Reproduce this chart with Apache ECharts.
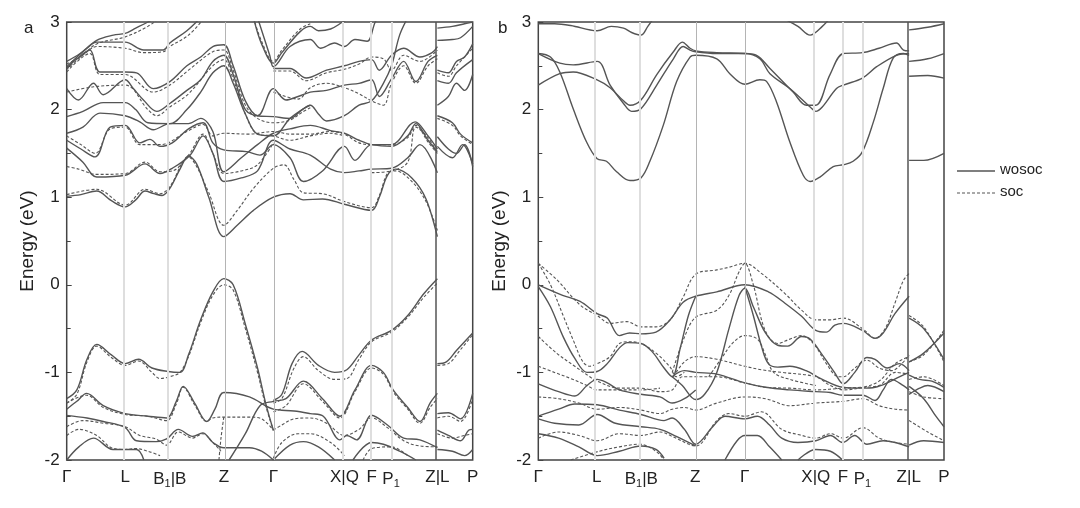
<!DOCTYPE html>
<html>
<head>
<meta charset="utf-8">
<script src="https://cdn.jsdelivr.net/npm/echarts@6/dist/echarts.min.js"></script>
<style>
  html, body { margin: 0; padding: 0; background: #fff; }
  #chart { width: 1080px; height: 508px; }
</style>
</head>
<body>
<div id="chart"></div>
<script>
// high-symmetry path positions (fraction of path length) and their labels
const kTicks = [0, 0.144, 0.254, 0.387, 0.509, 0.684, 0.751, 0.799, 0.913, 1]
const kLabels = ['Γ', 'L', 'B{s|1}|B', 'Z', 'Γ', 'X|Q', 'F', 'P{s|1}', 'Z|L', 'P']
const energyMin = -2
const energyMax = 3

// panel a, without SOC (solid)
const aWosoc = [
  [[0,-1.30],[0.025,-1.2],[0.05,-0.85],[0.074,-0.68],[0.11,-0.8],[0.144,-0.9],[0.177,-0.85],[0.21,-0.95],[0.25,-0.99],[0.279,-1.0],[0.3,-0.8],[0.33,-0.4],[0.36,-0.08],[0.387,0.07],[0.41,0.0],[0.44,-0.45],[0.47,-0.95],[0.49,-1.35],[0.509,-1.66]],
  [[0.509,-1.32],[0.53,-1.25],[0.555,-0.9],[0.58,-0.76],[0.62,-0.92],[0.66,-1.0],[0.69,-0.97],[0.72,-0.8],[0.751,-0.63],[0.8,-0.52],[0.84,-0.35],[0.88,-0.1],[0.913,0.07]],
  [[0.913,-0.9],[0.935,-0.88],[0.96,-0.75],[1.0,-0.55]],
  [[0,-1.42],[0.025,-1.33],[0.049,-1.24],[0.09,-1.38],[0.144,-1.47],[0.2,-1.5],[0.246,-1.52],[0.27,-1.33],[0.287,-1.16],[0.315,-1.35],[0.345,-1.56],[0.365,-1.42],[0.387,-1.23],[0.45,-1.28],[0.509,-1.42],[0.56,-1.44],[0.6,-1.47],[0.632,-1.5],[0.673,-1.77],[0.69,-1.72],[0.714,-1.77],[0.751,-1.49],[0.79,-1.6],[0.83,-1.75],[0.87,-1.77],[0.913,-1.86]],
  [[0.40,-2.0],[0.44,-1.7],[0.476,-1.38],[0.509,-1.33],[0.54,-1.3],[0.583,-1.1],[0.63,-1.3],[0.673,-1.5],[0.71,-1.2],[0.751,-0.92],[0.78,-1.0],[0.804,-1.2],[0.84,-1.4],[0.87,-1.56],[0.895,-1.35],[0.913,-1.24]],
  [[0,-1.49],[0.05,-1.52],[0.09,-1.56],[0.144,-1.63],[0.172,-1.78],[0.22,-1.79],[0.246,-1.76],[0.275,-1.65],[0.31,-1.73],[0.335,-1.69],[0.36,-1.8],[0.387,-1.86],[0.45,-1.86],[0.48,-1.9],[0.509,-2.0]],
  [[0,-2.0],[0.03,-1.85],[0.066,-1.75],[0.114,-1.88],[0.172,-1.88],[0.19,-2.0]],
  [[0.509,-2.0],[0.55,-1.83],[0.583,-1.79],[0.62,-1.85],[0.66,-2.0]],
  [[0.705,-2.0],[0.751,-1.8],[0.78,-1.82],[0.82,-1.9],[0.86,-2.0]],
  [[0.913,-1.47],[0.94,-1.46],[0.97,-1.53],[1.0,-1.24]],
  [[0.913,-1.66],[0.94,-1.72],[0.97,-1.78],[0.99,-1.66],[1.0,-1.65]],
  [[0.913,-1.88],[0.95,-1.9],[0.98,-1.95],[1.0,-1.88]],
  [[0,1.01],[0.035,1.03],[0.074,1.07],[0.11,0.96],[0.144,0.89],[0.17,0.97],[0.193,1.07],[0.215,1.04],[0.235,1.02],[0.254,1.1],[0.28,1.33],[0.3,1.47],[0.32,1.38],[0.35,1.0],[0.387,0.55],[0.42,0.68],[0.46,0.85],[0.509,1.0],[0.55,1.04],[0.583,0.97],[0.63,0.98],[0.684,0.92],[0.751,0.85],[0.77,1.0],[0.79,1.25],[0.81,1.32],[0.85,1.22],[0.885,0.98],[0.913,0.55]],
  [[0,1.65],[0.035,1.55],[0.07,1.46],[0.107,1.8],[0.144,1.82],[0.18,1.62],[0.205,1.66],[0.23,1.58],[0.26,1.62],[0.3,1.78],[0.336,1.85],[0.36,1.62],[0.387,1.54],[0.443,1.52],[0.476,1.48],[0.509,1.6],[0.55,1.45],[0.583,1.18],[0.63,1.3],[0.684,1.58],[0.71,1.42],[0.751,1.6],[0.8,1.6],[0.858,1.86],[0.89,1.7],[0.913,1.55]],
  [[0,1.56],[0.04,1.4],[0.074,1.23],[0.144,1.25],[0.193,1.38],[0.23,1.27],[0.26,1.33],[0.304,1.48],[0.336,1.7],[0.36,1.5],[0.387,1.18],[0.43,1.22],[0.47,1.3],[0.509,1.65],[0.55,1.55],[0.6,1.48],[0.65,1.32],[0.684,1.28],[0.72,1.3],[0.751,1.32],[0.8,1.33],[0.84,1.45],[0.87,1.6],[0.913,1.28]],
  [[0,1.73],[0.04,1.8],[0.082,1.96],[0.144,1.93],[0.18,1.86],[0.213,1.77],[0.254,1.84],[0.3,1.84],[0.33,1.9],[0.36,1.75],[0.387,1.29],[0.43,1.45],[0.47,1.6],[0.509,1.73],[0.55,1.78],[0.6,1.82],[0.65,1.76],[0.684,1.73],[0.72,1.65],[0.751,1.6],[0.8,1.58],[0.84,1.7],[0.86,1.84],[0.89,1.65],[0.913,1.52]],
  [[0,1.92],[0.04,1.98],[0.09,2.08],[0.144,2.08],[0.17,2.0],[0.2,1.85],[0.254,1.84],[0.296,2.0],[0.33,2.2],[0.36,2.42],[0.387,2.5],[0.41,2.3],[0.44,1.95],[0.47,1.72],[0.509,1.7],[0.55,1.9],[0.58,2.0],[0.6,2.05],[0.62,1.95],[0.64,1.87],[0.684,1.93],[0.72,2.05],[0.751,2.1],[0.78,2.3],[0.8,2.5],[0.82,2.85],[0.84,3.05]],
  [[0,2.24],[0.029,2.11],[0.066,2.3],[0.09,2.17],[0.144,2.34],[0.164,2.24],[0.189,2.11],[0.222,1.98],[0.254,2.07],[0.296,2.22],[0.33,2.34],[0.36,2.55],[0.387,2.62],[0.41,2.4],[0.44,2.0],[0.47,1.93],[0.509,2.24],[0.54,2.11],[0.57,2.15],[0.6,2.2],[0.64,2.22],[0.684,2.28],[0.72,2.3],[0.751,2.34],[0.77,2.15],[0.8,2.35],[0.83,2.55],[0.86,2.32],[0.89,2.55],[0.913,2.62]],
  [[0,2.47],[0.025,2.58],[0.057,2.68],[0.082,2.43],[0.144,2.43],[0.172,2.42],[0.213,2.24],[0.254,2.32],[0.296,2.5],[0.33,2.6],[0.36,2.72],[0.387,2.74],[0.41,2.5],[0.44,2.1],[0.47,1.93],[0.509,1.92],[0.55,1.9],[0.58,2.0],[0.6,2.05]],
  [[0,2.49],[0.05,2.7],[0.074,2.77],[0.144,2.77],[0.19,2.68],[0.238,2.68],[0.254,2.76],[0.296,2.9],[0.33,3.05]],
  [[0,2.55],[0.033,2.64],[0.074,2.79],[0.115,2.85],[0.144,2.87],[0.17,2.93],[0.2,3.0],[0.22,3.05]],
  [[0.46,3.05],[0.48,2.75],[0.509,2.53],[0.53,2.65],[0.575,2.89],[0.6,2.95],[0.62,2.9],[0.65,2.92],[0.68,3.0],[0.7,3.05]],
  [[0.47,3.05],[0.5,2.62],[0.509,2.49],[0.55,2.72],[0.6,2.8],[0.625,2.7],[0.66,2.76],[0.684,2.72],[0.71,2.8],[0.74,2.78],[0.76,3.0],[0.77,3.05]],
  [[0.509,2.47],[0.55,2.47],[0.59,2.36],[0.64,2.45],[0.684,2.5],[0.72,2.55],[0.751,2.57],[0.77,2.45],[0.8,2.62],[0.83,2.7],[0.87,2.6],[0.9,2.65],[0.913,2.72]],
  [[0.913,2.93],[0.95,2.95],[0.98,2.98],[1.0,3.0]],
  [[0.913,2.79],[0.95,2.8],[0.97,2.82],[1.0,2.95]],
  [[0.913,2.45],[0.94,2.42],[0.96,2.55],[0.98,2.6],[1.0,2.75]],
  [[0.913,2.33],[0.94,2.3],[0.96,2.42],[1.0,2.57]],
  [[0.913,2.05],[0.94,2.15],[0.96,2.3],[0.98,2.22],[1.0,2.4]],
  [[0.913,1.93],[0.95,1.85],[0.97,1.72],[1.0,1.62]],
  [[0.913,1.69],[0.94,1.55],[0.96,1.5],[0.98,1.6],[1.0,1.35]],
  [[0.913,1.58],[0.95,1.45],[0.975,1.6],[1.0,1.38]]
]

// panel a, with SOC (dashed)
const aSoc = [
  [[0,-1.35],[0.025,-1.25],[0.05,-0.88],[0.074,-0.7],[0.11,-0.83],[0.144,-0.92],[0.177,-0.87],[0.21,-1.0],[0.23,-1.07],[0.26,-1.04],[0.279,-1.0],[0.3,-0.82],[0.33,-0.43],[0.36,-0.12],[0.387,0.0],[0.41,-0.06],[0.44,-0.5],[0.47,-1.0],[0.49,-1.38],[0.509,-1.66]],
  [[0.509,-1.35],[0.53,-1.3],[0.56,-0.95],[0.583,-0.82],[0.62,-0.98],[0.66,-1.08],[0.69,-1.07],[0.72,-0.85],[0.751,-0.65],[0.8,-0.54],[0.84,-0.37],[0.88,-0.14],[0.913,0.02]],
  [[0.913,-0.92],[0.94,-0.9],[0.97,-0.74],[1.0,-0.57]],
  [[0,-1.35],[0.049,-1.26],[0.09,-1.4],[0.144,-1.48],[0.2,-1.5],[0.246,-1.55],[0.27,-1.36],[0.287,-1.17],[0.315,-1.37],[0.345,-1.56],[0.36,-1.52],[0.387,-1.51],[0.45,-1.51],[0.48,-1.53],[0.509,-1.66]],
  [[0.387,-1.51],[0.38,-1.75],[0.375,-2.0]],
  [[0.509,-1.45],[0.54,-1.38],[0.583,-1.13],[0.63,-1.33],[0.673,-1.52],[0.71,-1.22],[0.751,-0.95],[0.78,-1.02],[0.804,-1.22],[0.84,-1.42],[0.87,-1.58],[0.895,-1.4],[0.913,-1.3]],
  [[0.509,-1.66],[0.53,-1.6],[0.56,-1.53],[0.6,-1.52],[0.64,-1.58],[0.684,-1.72],[0.72,-1.65],[0.751,-1.52],[0.79,-1.63],[0.83,-1.78],[0.87,-1.84],[0.913,-1.85]],
  [[0.509,-1.98],[0.53,-1.8],[0.57,-1.7],[0.6,-1.7],[0.65,-1.8],[0.684,-1.95]],
  [[0.73,-2.0],[0.751,-1.87],[0.8,-1.85],[0.84,-1.95]],
  [[0,-1.62],[0.04,-1.55],[0.09,-1.58],[0.144,-1.62],[0.18,-1.72],[0.22,-1.76],[0.246,-1.83],[0.275,-1.68],[0.31,-1.75],[0.335,-1.7],[0.36,-1.8],[0.38,-1.9]],
  [[0,-1.72],[0.03,-1.65],[0.074,-1.72],[0.11,-1.86],[0.144,-1.88],[0.17,-1.87],[0.2,-1.9],[0.23,-1.95]],
  [[0.913,-1.52],[0.94,-1.5],[0.97,-1.56],[1.0,-1.3]],
  [[0.913,-1.7],[0.95,-1.75],[0.98,-1.72],[1.0,-1.7]],
  [[0,1.03],[0.074,1.09],[0.144,0.91],[0.193,1.09],[0.23,1.04],[0.254,1.12],[0.3,1.46],[0.32,1.35],[0.35,1.05],[0.387,0.68],[0.42,0.85],[0.46,1.1],[0.509,1.33],[0.535,1.37],[0.56,1.2],[0.583,1.05],[0.63,1.04],[0.684,0.95],[0.751,0.88],[0.77,1.02],[0.79,1.27],[0.81,1.3],[0.85,1.18],[0.885,0.95],[0.913,0.62]],
  [[0,1.35],[0.03,1.32],[0.074,1.26],[0.144,1.27],[0.193,1.4],[0.23,1.29],[0.26,1.3],[0.3,1.48],[0.336,1.72],[0.36,1.5],[0.387,1.27],[0.43,1.3],[0.47,1.37],[0.509,1.62]],
  [[0,1.7],[0.035,1.6],[0.07,1.5],[0.107,1.78],[0.144,1.8],[0.18,1.6],[0.23,1.6],[0.3,1.76],[0.336,1.83],[0.36,1.7],[0.387,1.73],[0.45,1.72],[0.509,1.75],[0.55,1.72],[0.6,1.72],[0.65,1.75],[0.684,1.72],[0.72,1.62],[0.751,1.6],[0.8,1.6],[0.84,1.68],[0.86,1.82],[0.89,1.63],[0.913,1.5]],
  [[0.751,1.28],[0.8,1.3],[0.84,1.4],[0.86,1.8],[0.89,1.68],[0.913,1.5]],
  [[0,2.52],[0.033,2.6],[0.074,2.75],[0.144,2.83],[0.2,2.95],[0.23,3.05]],
  [[0,2.46],[0.05,2.66],[0.074,2.72],[0.144,2.7],[0.19,2.65],[0.238,2.66],[0.254,2.72],[0.3,2.85],[0.34,3.05]],
  [[0,2.43],[0.057,2.64],[0.082,2.4],[0.144,2.4],[0.213,2.2],[0.254,2.28],[0.3,2.45],[0.36,2.66],[0.387,2.68],[0.41,2.45],[0.44,2.05],[0.47,1.9],[0.509,1.85],[0.55,1.88],[0.58,1.97],[0.6,2.02]],
  [[0,2.2],[0.066,2.26],[0.144,2.28],[0.2,2.0],[0.222,1.93],[0.254,2.03],[0.3,2.18],[0.36,2.5],[0.387,2.57],[0.41,2.35],[0.44,1.95],[0.47,1.72],[0.509,1.7],[0.55,1.65],[0.6,1.7],[0.65,1.73],[0.684,1.7]],
  [[0.46,3.05],[0.48,2.78],[0.509,2.55],[0.53,2.68],[0.575,2.92],[0.6,2.98]],
  [[0.509,2.44],[0.55,2.44],[0.59,2.33],[0.64,2.42],[0.684,2.46],[0.72,2.52],[0.751,2.6],[0.78,2.58],[0.8,2.45],[0.83,2.62],[0.87,2.55],[0.913,2.68]],
  [[0.509,2.2],[0.57,2.12],[0.6,2.25],[0.64,2.3],[0.684,2.25],[0.72,2.18],[0.751,2.1],[0.78,2.05],[0.8,2.3],[0.83,2.5],[0.86,2.3],[0.89,2.5],[0.913,2.58]],
  [[0.913,2.42],[0.94,2.38],[0.96,2.5],[1.0,2.7]],
  [[0.913,1.9],[0.95,1.82],[0.97,1.7],[1.0,1.6]]
]

// panel b, without SOC (solid)
const bWosoc = [
  [[0,2.64],[0.03,2.6],[0.053,2.43],[0.086,2.01],[0.119,1.63],[0.145,1.44],[0.168,1.41],[0.193,1.29],[0.226,1.19],[0.253,1.22],[0.275,1.41],[0.308,1.82],[0.341,2.32],[0.374,2.6],[0.388,2.62],[0.44,2.58],[0.472,2.41],[0.509,2.29],[0.546,2.34],[0.563,2.32],[0.587,2.09],[0.62,1.63],[0.653,1.25],[0.67,1.18],[0.694,1.23],[0.727,1.35],[0.752,1.37],[0.776,1.41],[0.799,1.52],[0.826,1.86],[0.85,2.24],[0.875,2.59],[0.9,2.64],[0.914,2.62]],
  [[0,2.64],[0.053,2.53],[0.086,2.51],[0.145,2.55],[0.177,2.28],[0.21,2.07],[0.23,1.98],[0.253,2.01],[0.292,2.28],[0.333,2.58],[0.357,2.72],[0.374,2.68],[0.388,2.66],[0.44,2.64],[0.509,2.64],[0.546,2.58],[0.571,2.41],[0.62,2.24],[0.67,2.03],[0.684,1.98],[0.7,2.03],[0.735,2.24],[0.752,2.28],[0.799,2.36],[0.834,2.49],[0.883,2.62],[0.914,2.64]],
  [[0,2.28],[0.053,2.41],[0.086,2.43],[0.145,2.34],[0.177,2.25],[0.21,2.1],[0.226,2.05],[0.253,2.11],[0.292,2.4],[0.333,2.66],[0.355,2.77],[0.374,2.7],[0.388,2.67],[0.44,2.65],[0.509,2.64],[0.538,2.62],[0.571,2.47],[0.628,2.2],[0.661,2.05],[0.684,2.05],[0.719,2.4],[0.752,2.64],[0.799,2.65],[0.84,2.7],[0.883,2.76],[0.9,2.68],[0.914,2.67]],
  [[0.914,1.42],[0.95,1.42],[1.0,1.5]],
  [[0.914,2.55],[0.96,2.58],[1.0,2.64]],
  [[0.914,2.38],[0.96,2.39],[1.0,2.36]],
  [[0,2.98],[0.04,2.98],[0.08,2.96],[0.145,2.9],[0.18,2.95],[0.21,2.93],[0.23,2.88],[0.253,2.85],[0.27,2.95],[0.285,3.05]],
  [[0.6,3.05],[0.64,2.95],[0.67,2.85],[0.7,2.95],[0.72,3.05]],
  [[0.914,2.91],[0.96,2.94],[1.0,2.98]],
  [[0,0],[0.06,-0.12],[0.103,-0.19],[0.145,-0.33],[0.17,-0.38],[0.2,-0.58],[0.225,-0.55],[0.253,-0.56],[0.29,-0.54],[0.325,-0.4],[0.357,-0.2],[0.388,-0.13],[0.44,-0.08],[0.509,0],[0.567,-0.08],[0.608,-0.21],[0.649,-0.36],[0.684,-0.52],[0.71,-0.54],[0.731,-0.46],[0.752,-0.44],[0.799,-0.52],[0.83,-0.61],[0.85,-0.55],[0.879,-0.33],[0.914,-0.13]],
  [[0,-0.02],[0.03,-0.25],[0.062,-0.6],[0.09,-0.84],[0.12,-1.0],[0.145,-0.99],[0.17,-0.9],[0.2,-0.72],[0.22,-0.66],[0.253,-0.67],[0.28,-0.76],[0.31,-0.95],[0.33,-1.05],[0.35,-0.72],[0.37,-0.35],[0.388,-0.13]],
  [[0.33,-1.05],[0.355,-1.15],[0.388,-1.31],[0.41,-1.25],[0.44,-1.0],[0.47,-0.5],[0.495,-0.12],[0.509,-0.04],[0.53,-0.25],[0.56,-0.55],[0.59,-0.69],[0.615,-0.7],[0.649,-0.59],[0.67,-0.62],[0.7,-0.8],[0.73,-1.0],[0.752,-1.13],[0.78,-1.0],[0.81,-0.83],[0.83,-0.85],[0.86,-0.95],[0.89,-0.9],[0.914,-0.98]],
  [[0.509,-0.02],[0.53,-0.35],[0.55,-0.7],[0.567,-0.9],[0.59,-0.94],[0.62,-0.93],[0.66,-0.98],[0.7,-1.08],[0.75,-1.17],[0.8,-1.18],[0.83,-1.17],[0.86,-1.12],[0.89,-1.05],[0.914,-1.0]],
  [[0.33,-1.05],[0.36,-0.98],[0.388,-1.0],[0.44,-1.02],[0.509,-1.12],[0.56,-1.17],[0.62,-1.2],[0.684,-1.22],[0.72,-1.23],[0.75,-1.26],[0.8,-1.26],[0.83,-1.32],[0.85,-1.2],[0.87,-1.08],[0.9,-1.15],[0.914,-1.2]],
  [[0,-1.13],[0.05,-1.22],[0.09,-1.27],[0.12,-1.15],[0.145,-1.08],[0.17,-1.12],[0.2,-1.2],[0.253,-1.25],[0.3,-1.28],[0.33,-1.35],[0.36,-1.3],[0.388,-1.2]],
  [[0,-1.5],[0.05,-1.42],[0.09,-1.36],[0.145,-1.37],[0.2,-1.43],[0.253,-1.48],[0.31,-1.55],[0.33,-1.52],[0.36,-1.65],[0.388,-1.82],[0.43,-1.62],[0.46,-1.5],[0.509,-1.53],[0.54,-1.5],[0.57,-1.6],[0.6,-1.75],[0.64,-1.8],[0.684,-1.78],[0.72,-1.72],[0.75,-1.8],[0.78,-1.72],[0.81,-1.82],[0.85,-1.78],[0.88,-1.8],[0.914,-1.85]],
  [[0,-1.53],[0.04,-1.58],[0.1,-1.6],[0.145,-1.48],[0.19,-1.58],[0.253,-1.62],[0.3,-1.65],[0.34,-1.73],[0.388,-1.84]],
  [[0,-1.7],[0.05,-1.75],[0.1,-1.85],[0.145,-1.95],[0.2,-1.9],[0.253,-1.84],[0.29,-1.88],[0.31,-1.98]],
  [[0.46,-2.0],[0.49,-1.78],[0.509,-1.72],[0.54,-1.72],[0.57,-1.85],[0.6,-2.0]],
  [[0.64,-2.0],[0.684,-1.88],[0.72,-1.9],[0.75,-2.0]],
  [[0.914,-0.38],[0.95,-0.5],[1.0,-0.85]],
  [[0.914,-0.88],[0.95,-0.78],[1.0,-0.55]],
  [[0.914,-1.03],[0.94,-1.08],[0.97,-1.1],[1.0,-1.17]],
  [[0.914,-1.25],[0.94,-1.18],[0.96,-1.15],[1.0,-1.22]],
  [[0.914,-1.16],[0.95,-1.3],[0.98,-1.5],[1.0,-1.62]],
  [[0.914,-1.83],[0.95,-1.78],[1.0,-1.8]]
]

// panel b, with SOC (dashed)
const bSoc = [
  [[0,0.245],[0.045,0.06],[0.103,-0.23],[0.145,-0.35],[0.177,-0.44],[0.218,-0.42],[0.253,-0.48],[0.29,-0.48],[0.325,-0.4],[0.357,-0.14],[0.388,0.12],[0.44,0.17],[0.47,0.2],[0.509,0.245],[0.55,0.13],[0.608,-0.1],[0.649,-0.29],[0.684,-0.4],[0.72,-0.4],[0.752,-0.38],[0.799,-0.5],[0.83,-0.61],[0.855,-0.5],[0.879,-0.21],[0.9,0.05],[0.914,0.13]],
  [[0,0.245],[0.03,0.0],[0.062,-0.36],[0.086,-0.63],[0.11,-0.88],[0.127,-0.93],[0.145,-0.9],[0.177,-0.82],[0.2,-0.67],[0.225,-0.65],[0.253,-0.67],[0.29,-0.78],[0.325,-0.94],[0.34,-1.05],[0.36,-1.0]],
  [[0.33,-1.0],[0.36,-0.6],[0.388,-0.37],[0.44,-0.29],[0.47,-0.12],[0.495,0.15],[0.509,0.245],[0.53,0.0],[0.559,-0.52],[0.59,-0.67],[0.62,-0.62],[0.649,-0.58],[0.68,-0.68],[0.71,-0.9],[0.74,-1.05],[0.752,-1.05],[0.78,-0.95],[0.81,-0.86],[0.84,-0.95],[0.87,-0.98],[0.914,-0.8]],
  [[0.42,-1.05],[0.45,-0.85],[0.48,-0.66],[0.509,-0.58],[0.54,-0.62],[0.56,-0.8],[0.58,-1.0],[0.62,-1.08],[0.684,-1.15]],
  [[0.34,-1.0],[0.36,-0.88],[0.388,-0.82],[0.44,-0.85],[0.509,-0.93],[0.55,-0.97],[0.6,-1.0],[0.684,-1.05],[0.72,-1.15],[0.752,-1.2],[0.8,-1.17],[0.84,-1.1],[0.88,-0.9],[0.914,-0.82]],
  [[0,-0.59],[0.045,-0.78],[0.09,-0.93],[0.127,-1.05],[0.145,-1.1],[0.2,-1.18],[0.253,-1.18],[0.3,-1.22],[0.33,-1.2],[0.355,-1.05],[0.388,-1.05],[0.44,-1.05],[0.509,-1.12],[0.56,-1.17],[0.62,-1.18],[0.684,-1.2],[0.752,-1.18],[0.8,-1.17],[0.84,-1.15],[0.88,-1.0],[0.914,-1.02]],
  [[0,-0.93],[0.04,-1.0],[0.08,-1.07],[0.12,-1.15],[0.145,-1.2],[0.2,-1.2],[0.253,-1.2],[0.3,-1.18]],
  [[0,-1.28],[0.05,-1.3],[0.1,-1.35],[0.145,-1.42],[0.2,-1.4],[0.253,-1.43],[0.3,-1.47],[0.33,-1.42],[0.36,-1.4],[0.388,-1.43],[0.44,-1.35],[0.509,-1.28],[0.56,-1.3],[0.62,-1.38],[0.684,-1.35],[0.752,-1.33],[0.8,-1.3],[0.84,-1.38],[0.88,-1.42],[0.914,-1.43]],
  [[0,-1.75],[0.05,-1.68],[0.1,-1.72],[0.145,-1.78],[0.2,-1.7],[0.253,-1.72],[0.3,-1.68],[0.33,-1.73],[0.388,-1.84],[0.44,-1.55],[0.47,-1.47],[0.509,-1.5],[0.55,-1.45],[0.6,-1.65],[0.65,-1.72],[0.684,-1.75],[0.72,-1.7],[0.752,-1.75],[0.8,-1.63],[0.84,-1.75],[0.88,-1.8],[0.914,-1.82]],
  [[0.08,-2.0],[0.15,-1.9],[0.2,-1.85],[0.25,-1.82],[0.29,-1.9],[0.31,-2.0]],
  [[0.914,-0.35],[0.95,-0.48],[1.0,-0.88]],
  [[0.914,-0.88],[0.95,-0.8],[1.0,-0.52]],
  [[0.914,-1.08],[0.95,-1.05],[1.0,-1.15]],
  [[0.914,-1.22],[0.95,-1.28],[1.0,-1.3]],
  [[0.914,-1.55],[0.96,-1.68],[1.0,-1.78]]
]

const fontFamily = 'Liberation Sans, Arial, sans-serif'
const lineColor = '#555'
const chart = echarts.init(document.getElementById('chart'))

function bandSeries(bands, idx, soc) {
  return bands.map(function(b) {
    return {
      type: 'line',
      name: soc ? 'soc' : 'wosoc',
      xAxisIndex: idx,
      yAxisIndex: idx,
      data: b,
      smooth: 0.35,
      symbol: 'none',
      silent: true,
      z: soc ? 3 : 4,
      color: lineColor,
      lineStyle: {
        color: lineColor,
        width: soc ? 1.1 : 1.4,
        type: soc ? [3, 2] : 'solid'
      }
    }
  })
}

function kLines(idx) {
  // vertical guide lines at the high-symmetry points; Z and Γ are thin, Z|L is the dark break
  return {
    type: 'line',
    xAxisIndex: idx,
    yAxisIndex: idx,
    data: [],
    silent: true,
    z: 1,
    markLine: {
      silent: true,
      symbol: 'none',
      label: { show: false },
      animation: false,
      data: kTicks.slice(1, -1).map(function(k) {
        let style = { color: '#dedede', width: 2, type: 'solid' }
        if (k === 0.913) style = { color: '#555', width: 1.5, type: 'solid' }
        if (k === 0.387 || k === 0.509) style = { color: '#b4b4b4', width: 1, type: 'solid' }
        return { xAxis: k, lineStyle: style }
      })
    }
  }
}

function xAxis(idx) {
  return {
    type: 'value',
    gridIndex: idx,
    min: 0,
    max: 1,
    splitLine: { show: false },
    axisTick: { show: false },
    axisLine: { show: false },
    axisLabel: {
      customValues: kTicks,
      margin: 9,
      color: '#222',
      fontFamily: fontFamily,
      fontSize: 17,
      formatter: function(v) {
        const i = kTicks.indexOf(v)
        return i >= 0 ? kLabels[i] : ''
      },
      rich: {
        s: { fontSize: 11, fontFamily: fontFamily, color: '#222', padding: [9, 0, 0, 0] }
      }
    }
  }
}

function yAxis(idx) {
  return {
    type: 'value',
    gridIndex: idx,
    min: energyMin,
    max: energyMax,
    interval: 1,
    name: 'Energy (eV)',
    nameLocation: 'middle',
    nameGap: 29,
    nameTextStyle: { fontFamily: fontFamily, fontSize: 19, color: '#222' },
    splitLine: { show: false },
    axisLine: { show: false },
    axisTick: { show: true, inside: true, length: 5, lineStyle: { color: '#444' } },
    minorTick: { show: true, splitNumber: 2, length: 4, lineStyle: { color: '#444' } },
    axisLabel: { margin: 7, color: '#222', fontFamily: fontFamily, fontSize: 17 }
  }
}

const option = {
  animation: false,
  backgroundColor: '#fff',
  grid: [
    { left: 66.7, top: 22, width: 406, height: 438, show: true, borderColor: '#444', borderWidth: 1.5, backgroundColor: 'transparent' },
    { left: 538.3, top: 22, width: 405.7, height: 438, show: true, borderColor: '#444', borderWidth: 1.5, backgroundColor: 'transparent' }
  ],
  xAxis: [xAxis(0), xAxis(1)],
  yAxis: [yAxis(0), yAxis(1)],
  graphic: [
    { type: 'text', left: 24, top: 20, style: { text: 'a', fontFamily: fontFamily, fontSize: 17, fill: '#222' } },
    { type: 'text', left: 498, top: 20, style: { text: 'b', fontFamily: fontFamily, fontSize: 17, fill: '#222' } },
    // legend drawn by hand: solid = wosoc, dashed = soc
    { type: 'line', shape: { x1: 957, y1: 171, x2: 995, y2: 171 }, style: { stroke: lineColor, lineWidth: 1.4 } },
    { type: 'line', shape: { x1: 957, y1: 193, x2: 995, y2: 193 }, style: { stroke: lineColor, lineWidth: 1.1, lineDash: [3, 2] } },
    { type: 'text', left: 1000, top: 162, style: { text: 'wosoc', fontFamily: fontFamily, fontSize: 15, fill: '#222' } },
    { type: 'text', left: 1000, top: 184, style: { text: 'soc', fontFamily: fontFamily, fontSize: 15, fill: '#222' } }
  ],
  series: [kLines(0), kLines(1)]
    .concat(bandSeries(aWosoc, 0, false))
    .concat(bandSeries(aSoc, 0, true))
    .concat(bandSeries(bWosoc, 1, false))
    .concat(bandSeries(bSoc, 1, true))
}

chart.setOption(option)
</script>
</body>
</html>
